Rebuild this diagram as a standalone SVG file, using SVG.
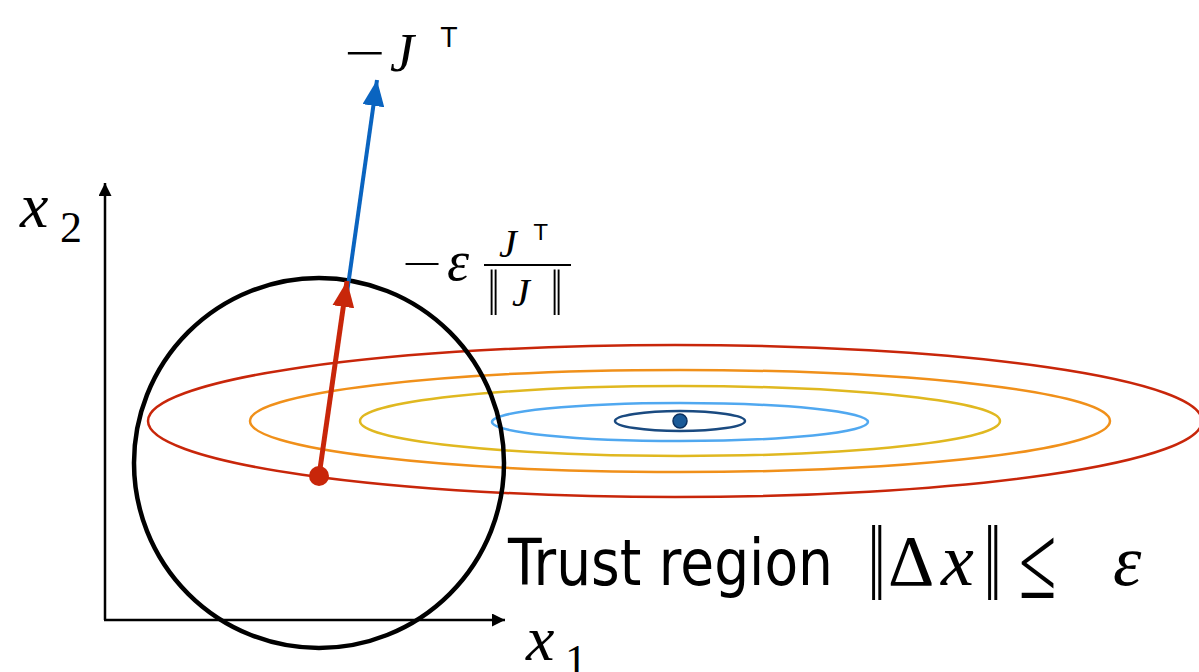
<svg xmlns="http://www.w3.org/2000/svg" width="1199" height="672" viewBox="0 0 1199 672">
<style>
.math{font-family:"Liberation Serif","DejaVu Serif",serif;font-style:italic;fill:#000}
.rm{font-family:"Liberation Serif","DejaVu Serif",serif;fill:#000}
.sans{font-family:"DejaVu Sans","Liberation Sans",sans-serif;fill:#000}
.ell{fill:none;stroke-width:2.5}
</style>
<defs>
<marker id="axh" viewBox="0 0 10 10" refX="10" refY="5" markerWidth="13" markerHeight="13" markerUnits="userSpaceOnUse" orient="auto"><path d="M0,0 L10,5 L0,10 z" fill="#000"/></marker>
<marker id="redh" viewBox="0 0 10 10" refX="10" refY="5" markerWidth="26" markerHeight="22" markerUnits="userSpaceOnUse" orient="auto" preserveAspectRatio="none"><path d="M0,0 L10,5 L0,10 z" fill="#c8260a"/></marker>
<marker id="blueh" viewBox="0 0 10 10" refX="10" refY="5" markerWidth="26" markerHeight="22" markerUnits="userSpaceOnUse" orient="auto" preserveAspectRatio="none"><path d="M0,0 L10,5 L0,10 z" fill="#0a64c0"/></marker>
</defs>
<rect width="1199" height="672" fill="#fff"/>
<g id="contours">
<ellipse class="ell" cx="675" cy="421" rx="527" ry="76" stroke="#c8260a"/>
<ellipse class="ell" cx="680" cy="421" rx="430" ry="51" stroke="#f0901a"/>
<ellipse class="ell" cx="680" cy="421" rx="320" ry="35" stroke="#e0b820"/>
<ellipse class="ell" cx="680" cy="422" rx="188" ry="19" stroke="#50a8f0"/>
<ellipse class="ell" cx="680" cy="421" rx="65" ry="10" stroke="#1a4a80"/>
<circle id="optimum" cx="680" cy="421" r="7" fill="#1a5a98" stroke="#0a3060" stroke-width="1.5"/>
</g>
<g id="trust-circle"><circle cx="319" cy="463" r="185" fill="none" stroke="#000" stroke-width="4.5"/></g>
<g id="connectors">
<line x1="105" y1="620" x2="105" y2="183" stroke="#000" stroke-width="2.5" marker-end="url(#axh)"/>
<line x1="104" y1="620" x2="505" y2="620" stroke="#000" stroke-width="2.5" marker-end="url(#axh)"/>
<line x1="346" y1="300" x2="377" y2="80" stroke="#0a64c0" stroke-width="4" marker-end="url(#blueh)"/>
<line x1="319" y1="476" x2="347" y2="281" stroke="#c8260a" stroke-width="5" marker-end="url(#redh)"/>
</g>
<g id="start"><circle cx="319" cy="476" r="10" fill="#c8260a"/></g>
<g id="labels">
<text class="math" x="20" y="227" font-size="64">x</text><text class="rm" x="60" y="242" font-size="44">2</text>
<text class="math" x="526" y="660" font-size="64">x</text><text class="rm" x="565" y="675" font-size="44">1</text>
<text class="rm" x="344" y="70" font-size="50" textLength="41" lengthAdjust="spacingAndGlyphs">−</text><text class="math" x="390" y="71" font-size="54">J</text><text class="sans" x="441" y="47" font-size="26">T</text>
<text class="rm" x="402" y="277" font-size="40" textLength="40" lengthAdjust="spacingAndGlyphs">−</text><text class="math" x="447" y="280" font-size="56">ε</text>
<text class="math" x="499" y="257" font-size="40">J</text><text class="sans" x="534" y="240" font-size="22">T</text>
<line x1="484" y1="265" x2="571" y2="265" stroke="#000" stroke-width="2"/>
<text class="rm" transform="translate(488,315) scale(1,1.65)" font-size="40">‖</text><text class="math" x="512" y="306" font-size="40">J</text><text class="rm" transform="translate(551,315) scale(1,1.65)" font-size="40">‖</text>
<text class="sans" x="508" y="585" font-size="64" textLength="325" lengthAdjust="spacingAndGlyphs">Trust region</text>
<text class="rm" transform="translate(868,600) scale(1,1.75)" font-size="62">‖</text>
<text class="rm" x="888" y="585" font-size="72">Δ</text>
<text class="math" x="941" y="585" font-size="74">x</text>
<text class="rm" transform="translate(984,600) scale(1,1.75)" font-size="62">‖</text>
<text class="rm" transform="translate(1019,598) scale(1.1,1.7)" font-size="62">≤</text>
<text class="math" x="1113" y="585" font-size="72">ε</text>
</g>
</svg>
